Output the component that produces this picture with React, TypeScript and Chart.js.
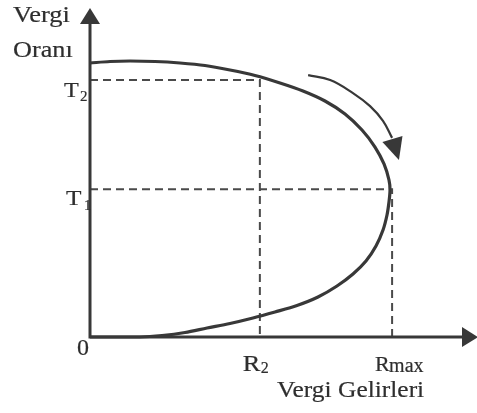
import React, { useEffect, useRef } from "react";
import { Chart, registerables } from "chart.js";

Chart.register(...registerables);

// Laffer curve (x = Vergi Gelirleri, y = Vergi Oranı), arbitrary units 0..100
const curveX = [0, 5.26, 10.53, 17.11, 23.68, 30.26, 36.84, 43.42, 50.0, 56.05, 61.84, 67.11, 71.58, 75.0, 77.37, 78.68, 78.95, 78.68, 78.16, 77.11, 75.26, 72.63, 69.21, 65.0, 60.0, 54.47, 48.68, 42.89, 36.84, 30.79, 25.0, 18.95, 13.16, 0];
const curveY = [83.8, 84.25, 84.4, 84.25, 83.79, 83.03, 81.65, 79.97, 77.68, 75.23, 72.17, 68.2, 63.3, 58.1, 52.91, 48.01, 44.95, 41.28, 37.31, 32.72, 27.83, 23.24, 19.27, 15.6, 12.23, 9.63, 7.65, 5.81, 4.13, 2.75, 1.38, 0.46, 0, 0];

// reference levels
const T2 = 78.6;
const R2 = 44.7;
const T1 = 45.2;
const Rmax = 79.5;

// curved direction arrow
const arrowX = [57.4, 63.2, 69.2, 73.7, 77.1, 79.5];
const arrowY = [80.1, 78.6, 74.6, 70.6, 66.1, 60.9];
const arrowTip = { x: 81.3, y: 54.1 };

const INK = "#383838";
const DASH = "#4a4a4a";
const FONT = "'Liberation Serif', 'Times New Roman', Times, serif";

export default function App() {
  const ref = useRef<HTMLCanvasElement | null>(null);

  useEffect(() => {
    if (!ref.current) return;

    const decor = {
      id: "decor",
      afterDatasetsDraw(chart: any) {
        const ctx = chart.ctx as CanvasRenderingContext2D;
        const xs = chart.scales.x;
        const ys = chart.scales.y;
        const x0 = xs.getPixelForValue(0);
        const y0 = ys.getPixelForValue(0);
        ctx.save();
        // axes
        ctx.strokeStyle = INK;
        ctx.fillStyle = INK;
        ctx.lineWidth = 3;
        ctx.lineCap = "butt";
        ctx.beginPath();
        ctx.moveTo(x0, y0 + 1.5);
        ctx.lineTo(x0, 22);
        ctx.moveTo(x0 - 1.5, y0);
        ctx.lineTo(chart.width - 12, y0);
        ctx.stroke();
        // y arrowhead
        ctx.beginPath();
        ctx.moveTo(x0 - 10, 24);
        ctx.lineTo(x0 + 10, 24);
        ctx.lineTo(x0, 8);
        ctx.closePath();
        ctx.fill();
        // x arrowhead
        const xe = chart.width;
        ctx.beginPath();
        ctx.moveTo(xe - 15, y0 - 10);
        ctx.lineTo(xe - 15, y0 + 10);
        ctx.lineTo(xe + 1, y0);
        ctx.closePath();
        ctx.fill();

        // curved arrow head
        const ax = xs.getPixelForValue(arrowX[arrowX.length - 1]);
        const ay = ys.getPixelForValue(arrowY[arrowY.length - 1]);
        const tx = xs.getPixelForValue(arrowTip.x);
        const ty = ys.getPixelForValue(arrowTip.y);
        const dx = tx - ax;
        const dy = ty - ay;
        const len = Math.hypot(dx, dy);
        const nx = -dy / len;
        const ny = dx / len;
        const bx = ax + dx * 0.05;
        const by = ay + dy * 0.05;
        ctx.beginPath();
        ctx.moveTo(bx + nx * 10.5, by + ny * 10.5);
        ctx.lineTo(bx - nx * 10.5, by - ny * 10.5);
        ctx.lineTo(tx, ty);
        ctx.closePath();
        ctx.fill();

        // text
        const text = (s: string, x: number, y: number, size: number, sx = 1.08) => {
          ctx.save();
          ctx.font = `${size}px ${FONT}`;
          ctx.textAlign = "left";
          ctx.textBaseline = "alphabetic";
          ctx.translate(x, y);
          ctx.scale(sx, 1);
          ctx.fillStyle = "#2e2e2e";
          ctx.strokeStyle = "#2e2e2e";
          ctx.lineWidth = 0.2;
          ctx.fillText(s, 0, 0);
          ctx.strokeText(s, 0, 0);
          ctx.restore();
        };
        text("Vergi", 13, 22, 23, 1.15);
        text("Oranı", 13, 57, 23, 1.14);

        const yT2 = ys.getPixelForValue(T2);
        const yT1 = ys.getPixelForValue(T1);
        text("T", x0 - 26, yT2 + 17, 22, 1.1);
        text("2", x0 - 10, yT2 + 21, 15, 1);
        text("T", x0 - 24, yT1 + 16, 22, 1.15);
        text("1", x0 - 6, yT1 + 21, 15, 1);

        text("0", x0 - 13, y0 + 18, 24, 1);

        const xR2 = xs.getPixelForValue(R2);
        const xRm = xs.getPixelForValue(Rmax);
        text("R", xR2 - 17, y0 + 34, 24, 1.1);
        text("2", xR2 + 1, y0 + 36, 16, 1);
        text("R", xRm - 17, y0 + 34, 22, 1.0);
        text("max", xRm - 3, y0 + 35, 20, 1);

        text("Vergi Gelirleri", 277, y0 + 60, 24, 1.06);
        ctx.restore();
      },
    };

    const chart = new Chart(ref.current, {
      type: "scatter",
      data: {
        datasets: [
          {
            data: curveX.map((x, i) => ({ x, y: curveY[i] })),
            showLine: true,
            tension: 0.3,
            borderColor: INK,
            borderWidth: 3.2,
            pointRadius: 0,
            clip: false as any,
          },
          {
            data: [
              { x: 0, y: T2 },
              { x: R2, y: T2 },
              { x: R2, y: 0 },
            ],
            showLine: true,
            borderColor: DASH,
            borderWidth: 2,
            borderDash: [8, 5],
            pointRadius: 0,
          },
          {
            data: [
              { x: 0, y: T1 },
              { x: Rmax, y: T1 },
              { x: Rmax, y: 0 },
            ],
            showLine: true,
            borderColor: DASH,
            borderWidth: 2,
            borderDash: [8, 5],
            pointRadius: 0,
          },
          {
            data: arrowX.map((x, i) => ({ x, y: arrowY[i] })),
            showLine: true,
            tension: 0.4,
            borderColor: INK,
            borderWidth: 2.2,
            pointRadius: 0,
          },
        ],
      },
      options: {
        animation: false,
        responsive: false,
        events: [],
        layout: { padding: { left: 90, right: 7, top: 10, bottom: 76 } },
        plugins: { legend: { display: false }, tooltip: { enabled: false } },
        scales: {
          x: { type: "linear", min: 0, max: 100, display: false },
          y: { type: "linear", min: 0, max: 100, display: false },
        },
      },
      plugins: [decor],
    });
    return () => chart.destroy();
  }, []);

  return (
    <div style={{ position: "fixed", left: 0, top: 0, width: 477, height: 413, background: "#fff" }}>
      <canvas ref={ref} width={477} height={413} style={{ width: 477, height: 413 }} />
    </div>
  );
}
